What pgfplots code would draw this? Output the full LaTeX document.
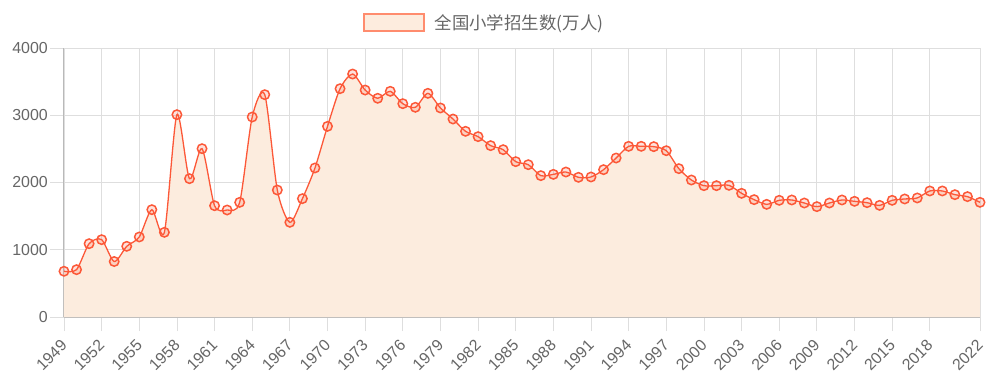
\documentclass[border=0pt]{standalone}
\usepackage{pgfplots}
\pgfplotsset{compat=1.18}
\usepackage{fontspec}
\setmainfont{Liberation Sans}
\newfontfamily\cjk{Noto Sans CJK SC}
\definecolor{lineC}{RGB}{252,88,56}
\definecolor{fillC}{RGB}{252,236,222}
\definecolor{legB}{RGB}{255,140,110}
\definecolor{legF}{RGB}{253,236,222}
\definecolor{txtC}{RGB}{102,102,102}
\definecolor{gridC}{RGB}{222,222,222}
\definecolor{axC}{RGB}{185,185,185}
\pgfplotstableread{
year val
1949 680
1950 704
1951 1090
1952 1150
1953 825
1954 1051
1955 1190
1956 1596
1957 1259
1958 3009
1959 2057
1960 2503
1961 1655
1962 1591
1963 1705
1964 2974
1965 3306
1966 1888
1967 1408
1968 1760
1969 2216
1970 2835
1971 3395
1972 3613
1973 3375
1974 3252
1975 3356
1976 3172
1977 3118
1978 3326
1979 3108
1980 2944
1981 2761
1982 2682
1983 2548
1984 2488
1985 2310
1986 2265
1987 2102
1988 2121
1989 2156
1990 2077
1991 2082
1992 2191
1993 2364
1994 2538
1995 2538
1996 2533
1997 2473
1998 2206
1999 2037
2000 1953
2001 1953
2002 1958
2003 1839
2004 1745
2005 1675
2006 1735
2007 1740
2008 1695
2009 1641
2010 1695
2011 1740
2012 1720
2013 1700
2014 1660
2015 1735
2016 1755
2017 1770
2018 1874
2019 1874
2020 1819
2021 1790
2022 1705
}\datatable
\begin{document}
\begin{tikzpicture}[x=1bp,y=1bp]
\path[use as bounding box] (-64bp,-73bp) rectangle (926bp,317bp);
\begin{axis}[
  at={(0,0)}, anchor=south west,
  scale only axis, width=916bp, height=269bp,
  xmin=1949, xmax=2022, ymin=0, ymax=4000,
  xtick={1949,1952,...,2018,2022},
  ytick={0,1000,2000,3000,4000},
  xticklabel={\pgfmathprintnumber[set thousands separator={}]{\tick}},
  yticklabel={\pgfmathprintnumber[set thousands separator={}]{\tick}},
  scaled y ticks=false,
  /pgf/number format/assume math mode=true,
  tick label style={font=\fontsize{16}{16}\selectfont, text=txtC},
  xticklabel style={yshift=-6bp, xshift=-4bp, rotate=45, anchor=north east, inner sep=1bp},
  yticklabel style={inner sep=1bp, xshift=-1bp},
  grid=major,
  major grid style={gridC, line width=0.8bp},
  tick align=outside, major tick length=14bp,
  tick style={gridC, line width=0.8bp},
  axis line style={axC, line width=1bp},
  axis x line*=bottom, axis y line*=left,
  clip=false,
  legend style={at={(0.5,1)}, anchor=south, xshift=-38bp, yshift=15bp, draw=none, fill=none,
    font=\cjk\fontsize{17.5}{17.5}\selectfont, text=txtC, inner sep=0pt,
    /tikz/every even column/.append style={column sep=8bp}},
  legend cell align=left,
]
\addplot[draw=none, fill=fillC, smooth, tension=0.45, forget plot] table[x=year,y=val]{\datatable} \closedcycle;
\addplot[lineC, line width=1.3bp, smooth, tension=0.45, forget plot,
  mark=*, mark size=4.7bp,
  mark options={solid, draw=lineC, fill=lineC, fill opacity=0.18, line width=1.5bp}]
  table[x=year,y=val]{\datatable};
\addlegendimage{legend image code/.code={\draw[draw=legB, fill=legF, line width=2bp] (-4bp,-8.5bp) rectangle (56bp,8.5bp);}}
\addlegendentry{\hspace*{8bp}全国小学招生数(万人)}
\end{axis}
\end{tikzpicture}
\end{document}
